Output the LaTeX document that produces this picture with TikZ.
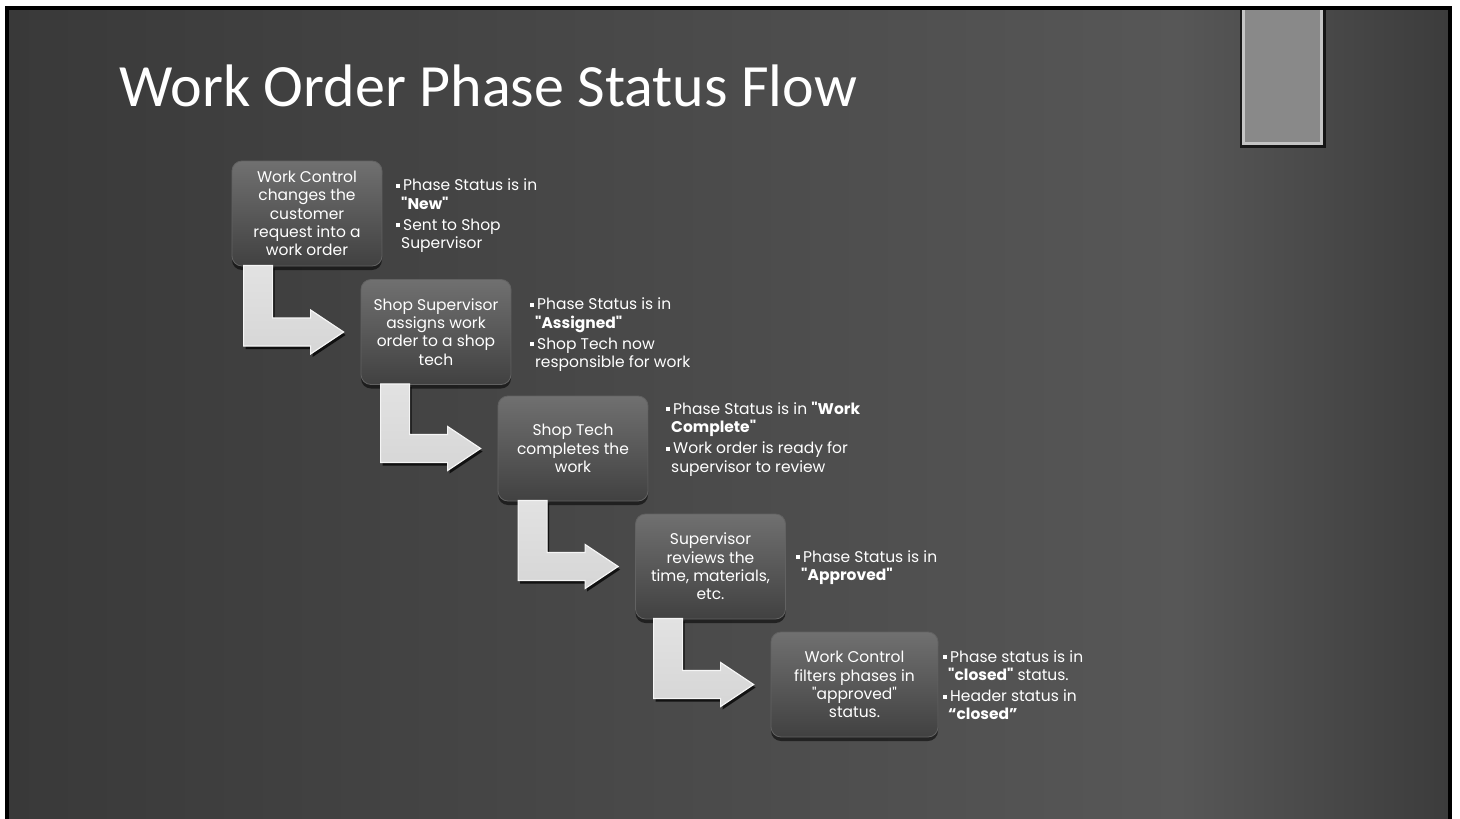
\documentclass[tikz,border=0pt]{standalone}
\usepackage{fontspec}
\setmainfont{Poppins}[Ligatures=TeXOff]
\newfontfamily\titlefont{Carlito}
\usetikzlibrary{calc,shadows}
\definecolor{bgdark}{HTML}{393939}
\definecolor{bglight}{HTML}{575757}
\definecolor{bgright}{HTML}{3C3C3C}
\definecolor{boxtop}{HTML}{707070}
\definecolor{boxbot}{HTML}{414141}
\definecolor{boxedge}{HTML}{626262}
\definecolor{arrfill}{HTML}{D6D6D6}
\definecolor{arrtop}{HTML}{E2E2E2}
\definecolor{tabfill}{HTML}{898989}
\definecolor{tabedge}{HTML}{C4C4C4}
\newcommand\bul{\rule[0.2em]{4pt}{4pt}\hspace{3pt}}
\newcommand\hang{\hspace*{5pt}}
\newcommand\bentarrow[2]{%
  \path[benta] let \p1=(#2.west), \p2=(#1.south) in
    (\x1-117pt,\y2+1pt) -- (\x1-88pt,\y2+1pt) -- (\x1-88pt,\y1+14pt) -- (\x1-50pt,\y1+14pt)
    -- (\x1-50pt,\y1+22pt) -- (\x1-17pt,\y1) -- (\x1-50pt,\y1-22pt)
    -- (\x1-50pt,\y1-14pt) -- (\x1-117pt,\y1-14pt) -- cycle;}
\begin{document}
\begin{tikzpicture}[x=1pt,y=-1pt,
  stage/.style={rounded corners=10pt, minimum width=150pt, minimum height=105pt,
    inner sep=2pt, align=center, text=white,
    font=\fontsize{15.5}{18.3}\selectfont,
    top color=boxtop, bottom color=boxbot, draw=boxedge, line width=0.8pt,
    drop shadow={shadow xshift=0pt, shadow yshift=-4pt, opacity=0.55, fill=black}},
  info/.style={anchor=north west, inner sep=0pt, align=left, text=white,
    font=\fontsize{15.5}{18.3}\selectfont},
  benta/.style={top color=arrtop, bottom color=arrfill, draw=white!92!gray, line width=1.2pt,
    line join=miter,
    drop shadow={shadow xshift=2pt, shadow yshift=-3pt, opacity=0.75, fill=black}},
  titletext/.style={anchor=base west, font=\titlefont\fontsize{60}{64}\selectfont}
]
\useasboundingbox (0,0) rectangle (1460,819);
\fill[white] (0,0) rectangle (1460,819);
% background gradient
\shade[left color=bgdark, right color=bglight] (9,10) rectangle (1180,819);
\shade[left color=bglight, right color=bgright] (1179,10) rectangle (1448,819);
\draw[black, line width=4pt] (7,8) rectangle (1450,840);
% tab at top right
\fill[black, opacity=0.7] (1240,10) rectangle (1326,148);
\fill[tabedge] (1242,10) rectangle (1323,145);
\fill[tabfill] (1245,10) rectangle (1320,142);

% title
\node[titletext, text=white] (title) at (116,106) {Work Order Phase Status Flow};

% stages
\node[stage] (b1) at (307,213.5) {Work Control\\changes the\\customer\\request into a\\work order};
\node[stage] (b2) at (436,332) {Shop Supervisor\\assigns work\\order to a shop\\tech};
\node[stage] (b3) at (573,448.5) {Shop Tech\\completes the\\work};
\node[stage] (b4) at (710.5,566.5) {Supervisor\\reviews the\\time, materials,\\etc.};
\node[stage, minimum width=167pt] (b5) at (854.5,684.5) {Work Control\\filters phases in\\"approved"\\status.};

% bent arrows
\bentarrow{b1}{b2}
\bentarrow{b2}{b3}
\bentarrow{b3}{b4}
\bentarrow{b4}{b5}

% bullet texts
\node[info] (i1) at (396,179) {\bul Phase Status is in\\\hang\textbf{"New"}\\[3pt]\bul Sent to Shop\\\hang Supervisor};
\node[info] (i2) at (530,298) {\bul Phase Status is in\\\hang\textbf{"Assigned"}\\[3pt]\bul Shop Tech now\\\hang responsible for work};
\node[info] (i3) at (666,401.5) {\bul Phase Status is in \textbf{"Work}\\\hang\textbf{Complete"}\\[3pt]\bul Work order is ready for\\\hang supervisor to review};
\node[info] (i4) at (796,550) {\bul Phase Status is in\\\hang\textbf{"Approved"}};
\node[info] (i5) at (943,650) {\bul Phase status is in\\\hang\textbf{"closed"} status.\\[3pt]\bul Header status in\\\hang\textbf{“closed”}};
\end{tikzpicture}
\end{document}
